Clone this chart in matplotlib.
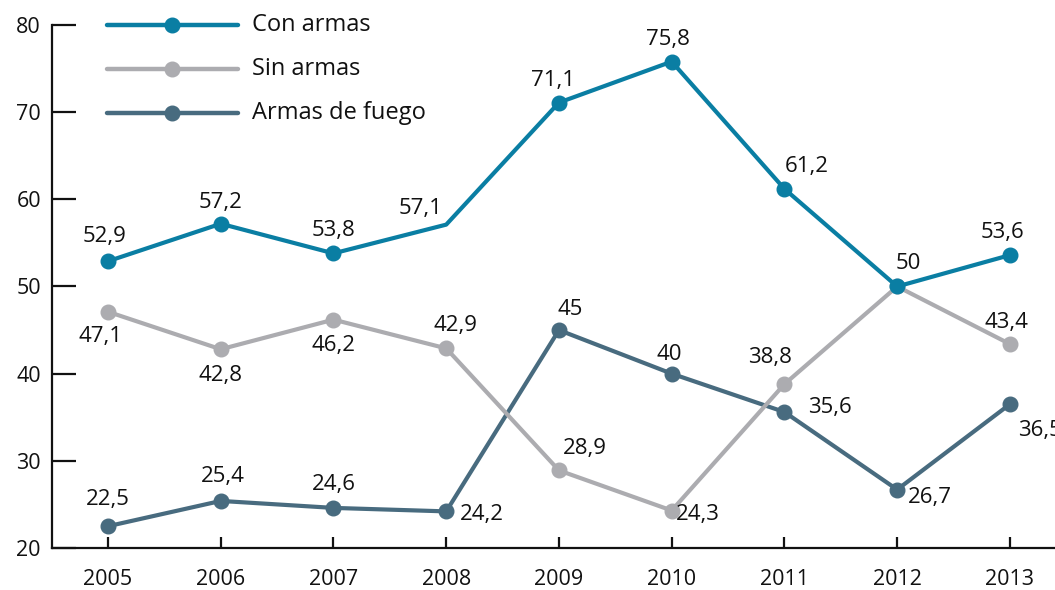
import matplotlib
matplotlib.use("Agg")
import matplotlib.pyplot as plt

plt.rcParams['font.family'] = ['Open Sans', 'DejaVu Sans']

years = [2005, 2006, 2007, 2008, 2009, 2010, 2011, 2012, 2013]
con_armas = [52.9, 57.2, 53.8, 57.1, 71.1, 75.8, 61.2, 50, 53.6]
sin_armas = [47.1, 42.8, 46.2, 42.9, 28.9, 24.3, 38.8, 50, 43.4]
armas_fuego = [22.5, 25.4, 24.6, 24.2, 45, 40, 35.6, 26.7, 36.5]
series_names = ['Con armas', 'Sin armas', 'Armas de fuego']
y_ticks = [20, 30, 40, 50, 60, 70, 80]

colors = ['#0a7ea3', '#acacb0', '#486b7f']
zorders = [6, 4, 2]

# label offsets in pixels (dx, dy), None = no label
offsets = [
    [(-3, 25), (0, 21), (0, 23), (-26, 16), (-6, 22), (-4, 22), (22, 22), (11, 23), (-7, 23)],
    [(-8, -25), (0, -26), (0, -26), (9, 23), (26, 22), (26, -4), (-14, 27), None, (-3, 22)],
    [(0, 27), (2, 24), (0, 23), (36, -3), (11, 21), (-2, 19), (46, 5), (33, -8), (30, -26)],
]
# points drawn without a marker (series index, year index)
no_marker = {(0, 3)}

fig = plt.figure(figsize=(10.55, 5.9), dpi=100)
ax = fig.add_axes([52 / 1055, 1 - 548 / 590, 1 - 52 / 1055, (548 - 25) / 590])

px = 0.72  # pixels -> points at 100 dpi
for s, (vals, name, c) in enumerate(zip([con_armas, sin_armas, armas_fuego], series_names, colors)):
    z = zorders[s]
    ax.plot(years, vals, color=c, lw=3, solid_capstyle='round', zorder=z, clip_on=False)
    mx = [x for i, x in enumerate(years) if (s, i) not in no_marker]
    my = [v for i, v in enumerate(vals) if (s, i) not in no_marker]
    ax.plot(mx, my, 'o', color=c, ms=10.5, zorder=z + 1, clip_on=False)
    for i, (x, v) in enumerate(zip(years, vals)):
        off = offsets[s][i]
        if off is None:
            continue
        txt = f"{v:g}".replace('.', ',')
        ax.annotate(txt, (x, v), xytext=(off[0] * px, off[1] * px), textcoords='offset points',
                    ha='center', va='center', fontsize=16, color='#111111',
                    annotation_clip=False, zorder=10)

ax.set_xlim(2004.503, 2013.4)
ax.set_ylim(20, 80)
ax.set_xticks(years)
ax.set_yticks(y_ticks)
ax.set_yticklabels([str(t) for t in y_ticks])
for sp in ['top', 'right']:
    ax.spines[sp].set_visible(False)
for sp in ['left', 'bottom']:
    ax.spines[sp].set_linewidth(1.6)
    ax.spines[sp].set_color('#111111')
ax.tick_params(axis='y', direction='in', length=17, width=1.6, pad=8, labelsize=15.5, colors='#111111')
ax.tick_params(axis='x', direction='in', length=8, width=1.6, pad=15, labelsize=15.5, colors='#111111')

# legend
for s, (name, c) in enumerate(zip(series_names, colors)):
    yy = 1 - (25 + 44 * s) / 590
    fig.add_artist(plt.Line2D([107 / 1055, 238 / 1055], [yy, yy], color=c, lw=3.2,
                              solid_capstyle='round', transform=fig.transFigure))
    fig.add_artist(plt.Line2D([172 / 1055], [yy], marker='o', ms=10.5, color=c,
                              transform=fig.transFigure))
    fig.text(252 / 1055, yy, name, fontsize=17, va='center', ha='left', color='#111111')

fig.savefig('out.png', dpi=100)
